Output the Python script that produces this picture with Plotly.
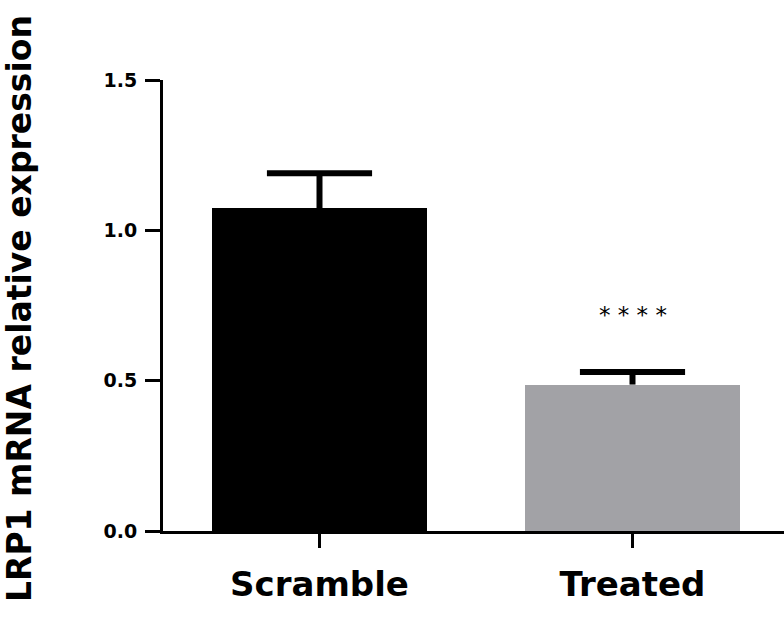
import plotly.graph_objects as go

categories = ["Scramble", "Treated"]
means = [1.073, 0.487]
errors_up = [0.117, 0.042]
bar_colors = ["#000000", "#a2a2a6"]
y_ticks = [0.0, 0.5, 1.0, 1.5]
y_tick_labels = ["0.0", "0.5", "1.0", "1.5"]
significance = "* * * *"
sig_y = 0.72
y_title = "LRP1 mRNA relative expression"

FONT = "DejaVu Sans"
BAR_W = 0.687
CAP_HALF = 0.168

fig = go.Figure()
fig.add_trace(go.Bar(
    x=[0, 1],
    y=means,
    width=BAR_W,
    marker=dict(color=bar_colors, line=dict(width=0)),
    showlegend=False, hoverinfo="skip",
))

# upward-only error bars (stem + cap) built from the data arrays
for i, (m, e) in enumerate(zip(means, errors_up)):
    top = m + e
    fig.add_trace(go.Scatter(
        x=[i, i, None, i - CAP_HALF, i + CAP_HALF],
        y=[m, top, None, top, top],
        mode="lines", line=dict(color="black", width=6),
        showlegend=False, hoverinfo="skip",
    ))

fig.add_annotation(x=1, y=sig_y, xref="x", yref="y", text=significance,
                   showarrow=False, font=dict(family=FONT, size=23, color="black"))

fig.add_annotation(x=(19 - 163) / 621, y=(531 - 309) / 451, xref="paper", yref="paper",
                   text="<b>" + y_title + "</b>", textangle=-90, showarrow=False,
                   xanchor="center", yanchor="middle",
                   font=dict(family=FONT, size=33, color="black"))

fig.update_layout(
    width=784, height=625,
    margin=dict(l=163, r=0, t=80, b=94),
    plot_bgcolor="white", paper_bgcolor="white",
    bargap=0,
    xaxis=dict(
        range=[-0.5, -0.5 + 621 / 313],
        tickvals=[0, 1], ticktext=["<b>" + c + "</b>" for c in categories],
        ticks="outside", ticklen=14, tickwidth=3, tickcolor="black",
        showline=True, linecolor="black", linewidth=3,
        showgrid=False, zeroline=False,
        tickfont=dict(family=FONT, size=34, color="black"),
        ticklabelstandoff=7,
    ),
    yaxis=dict(
        range=[0, 1.5],
        tickvals=y_ticks, ticktext=["<b>" + t + "</b>" for t in y_tick_labels],
        ticks="outside", ticklen=15, tickwidth=3, tickcolor="black",
        showline=True, linecolor="black", linewidth=3,
        showgrid=False, zeroline=False,
        tickfont=dict(family=FONT, size=19, color="black"),
        ticklabelstandoff=4,
    ),
)

fig.write_html("out.html")
